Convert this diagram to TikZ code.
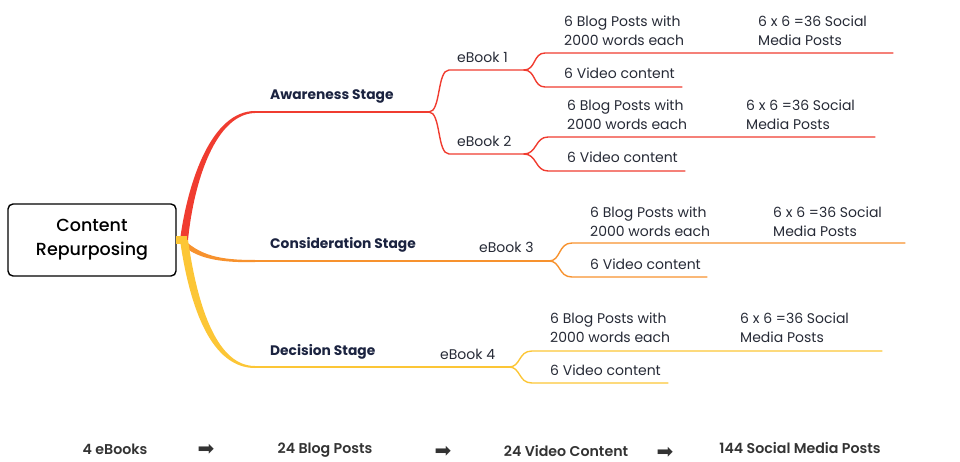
\documentclass[tikz,border=0pt]{standalone}
\usepackage{fontspec}
\setmainfont{Poppins}
\newfontfamily\medfont{Poppins Medium}
\newfontfamily\semifont{Poppins SemiBold}
\newfontfamily\arrowfont{DejaVu Sans}
\definecolor{cred}{HTML}{F03C30}
\definecolor{corange}{HTML}{F7922E}
\definecolor{cyellow}{HTML}{FCC636}
\definecolor{ctext}{HTML}{262A36}
\definecolor{cnavy}{HTML}{1B2340}
\definecolor{cgray}{HTML}{333333}
\tikzset{
  leaf/.style={anchor=west, inner sep=0pt, align=left, text=ctext, font=\fontsize{14}{19}\selectfont},
  stage/.style={anchor=west, inner sep=0pt, text=cnavy, font=\fontsize{13.8}{16}\selectfont\bfseries},
  summary/.style={inner sep=0pt, text=cgray, font=\fontsize{14.2}{16}\selectfont\semifont},
  arr/.style={inner sep=0pt, text=cgray, font=\fontsize{20}{20}\selectfont\arrowfont},
  thin/.style={line width=1.4pt, line cap=round},
}
\begin{document}
\begin{tikzpicture}[x=1pt,y=-1pt]
\useasboundingbox (0,0) rectangle (960,462);
% root
\node[draw=black, line width=1.4pt, rounded corners=5pt, minimum width=168pt, minimum height=72pt, align=center, inner sep=0pt, font=\fontsize{17.5}{24}\selectfont\medfont, text=black] (root) at (92,240) {Content\\Repurposing};
% thick tapered main branches
\fill[corange] (181,237) .. controls (200,256) and (220,260) .. (255,260) -- (255,262) .. controls (218,263) and (196,258) .. (181,244) -- cycle;
\fill[cred] (180,240) .. controls (188,180) and (212,111) .. (255,111) -- (255,113) .. controls (216,114) and (194,180) .. (188,240) -- cycle;
\fill[cyellow] (180,240) .. controls (190,310) and (212,368) .. (255,368) -- (255,366) .. controls (218,366) and (198,310) .. (188,240) -- cycle;
\fill[cyellow] (176,236) rectangle (187,244);
% stage lines
\coordinate (a0) at (255,112);
\coordinate (c0) at (255,261);
\coordinate (d0) at (255,367);
\coordinate (ab) at (429,112);
\coordinate (cb) at (549,261);
\coordinate (db) at (509,367);
\draw[thin, cred] (a0) -- (ab);
\draw[thin, corange] (c0) -- (cb);
\draw[thin, cyellow] (d0) -- (db);
% stage labels
\node[stage] (sa) at (270,96.5) {Awareness Stage};
\node[stage] (sc) at (270,244.5) {Consideration Stage};
\node[stage] (sd) at (270,351.5) {Decision Stage};
% eBook branches (awareness)
\coordinate (e1) at (449,70);
\coordinate (e1b) at (524,70);
\coordinate (e2) at (449,154);
\coordinate (e2b) at (524,154);
\draw[thin, cred] (ab) .. controls (441,112) and (437,70) .. (e1) -- (e1b);
\draw[thin, cred] (ab) .. controls (441,112) and (437,154) .. (e2) -- (e2b);
\node[leaf] (eb1) at (457,57) {eBook 1};
\node[leaf] (eb2) at (457,141) {eBook 2};
% eBook 1 leaves
\coordinate (l1a) at (545,53);
\coordinate (l1ae) at (893,53);
\coordinate (l1b) at (545,87);
\coordinate (l1be) at (682,87);
\draw[thin, cred] (e1b) .. controls (536,70) and (533,53) .. (l1a) -- (l1ae);
\draw[thin, cred] (e1b) .. controls (536,70) and (533,87) .. (l1b) -- (l1be);
\node[leaf] (bl1) at (564,30.5) {6 Blog Posts with\\2000 words each};
\node[leaf] (so1) at (758,30.5) {6 x 6 =36 Social\\Media Posts};
\node[leaf] (vi1) at (564,73) {6 Video content};
% eBook 2 leaves
\coordinate (l2a) at (548,137);
\coordinate (l2ae) at (875,137);
\coordinate (l2b) at (548,171);
\coordinate (l2be) at (685,171);
\draw[thin, cred] (e2b) .. controls (537,154) and (535,137) .. (l2a) -- (l2ae);
\draw[thin, cred] (e2b) .. controls (537,154) and (535,171) .. (l2b) -- (l2be);
\node[leaf] (bl2) at (567,114.5) {6 Blog Posts with\\2000 words each};
\node[leaf] (so2) at (746,114.5) {6 x 6 =36 Social\\Media Posts};
\node[leaf] (vi2) at (567,157) {6 Video content};
% eBook 3
\node[leaf] (eb3) at (479,247) {eBook 3};
\coordinate (l3a) at (572,243);
\coordinate (l3ae) at (905,243);
\coordinate (l3b) at (572,277);
\coordinate (l3be) at (707,277);
\draw[thin, corange] (cb) .. controls (561,261) and (558,243) .. (l3a) -- (l3ae);
\draw[thin, corange] (cb) .. controls (561,261) and (558,277) .. (l3b) -- (l3be);
\node[leaf] (bl3) at (590,221.5) {6 Blog Posts with\\2000 words each};
\node[leaf] (so3) at (773,221.5) {6 x 6 =36 Social\\Media Posts};
\node[leaf] (vi3) at (590,264) {6 Video content};
% eBook 4
\node[leaf] (eb4) at (440,354) {eBook 4};
\coordinate (l4a) at (532,351);
\coordinate (l4ae) at (882,351);
\coordinate (l4b) at (532,383);
\coordinate (l4be) at (668,383);
\draw[thin, cyellow] (db) .. controls (521,367) and (518,351) .. (l4a) -- (l4ae);
\draw[thin, cyellow] (db) .. controls (521,367) and (518,383) .. (l4b) -- (l4be);
\node[leaf] (bl4) at (550,327.5) {6 Blog Posts with\\2000 words each};
\node[leaf] (so4) at (740,327.5) {6 x 6 =36 Social\\Media Posts};
\node[leaf] (vi4) at (550,370) {6 Video content};
% summary row
\node[summary] (s1) at (115,449) {4 eBooks};
\node[arr] (a1) at (206,450) {➡};
\node[summary] (s2) at (325,450) {24 Blog Posts};
\node[arr] (a2) at (443,452) {➡};
\node[summary] (s3) at (566,451) {24 Video Content};
\node[arr] (a3) at (665,453) {➡};
\node[summary] (s4) at (800,448) {144 Social Media Posts};
\end{tikzpicture}
\end{document}
